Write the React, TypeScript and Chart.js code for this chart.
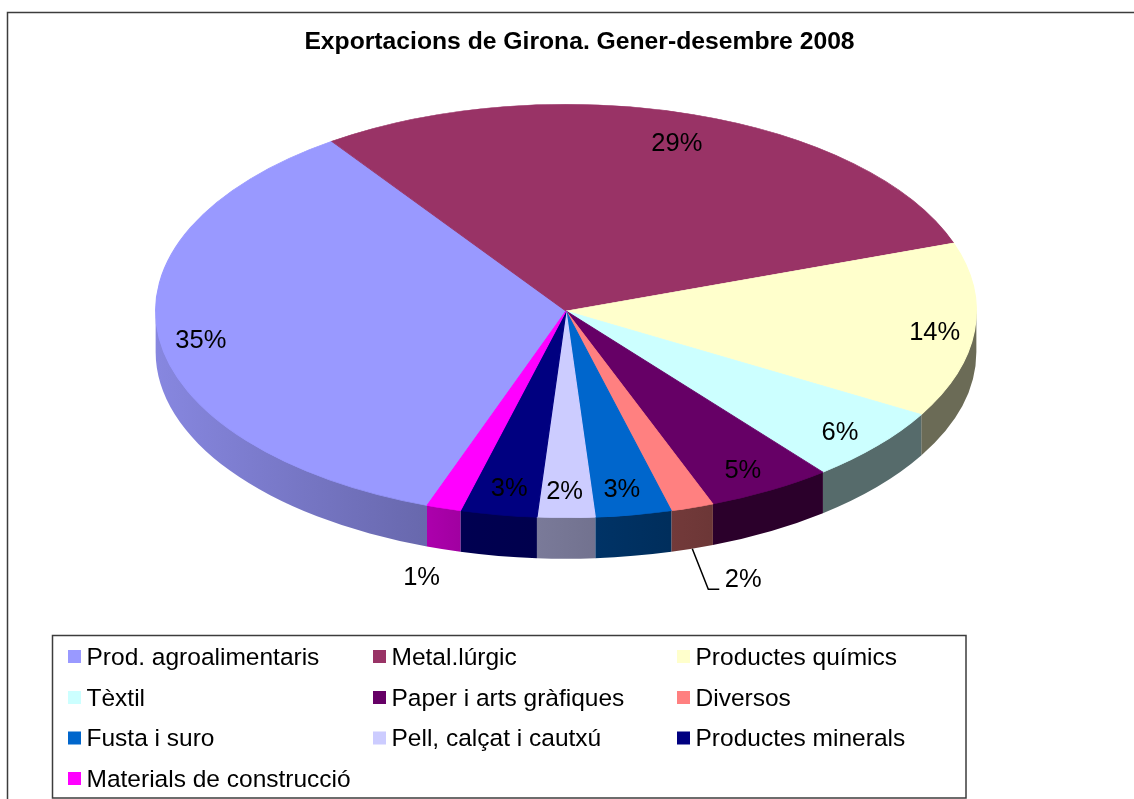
import React, { useEffect, useRef } from "react";
import { Chart, registerables } from "chart.js";

Chart.register(...registerables);

const categories = [
  "Prod. agroalimentaris",
  "Metal.lúrgic",
  "Productes químics",
  "Tèxtil",
  "Paper i arts gràfiques",
  "Diversos",
  "Fusta i suro",
  "Pell, calçat i cautxú",
  "Productes minerals",
  "Materials de construcció",
];
const shares = [34.9, 29.4, 13.7, 5.9, 4.95, 1.7, 3.0, 2.27, 3.02, 1.36];
const sliceColors = [
  "#9999FF", "#993366", "#FFFFCC", "#CCFFFF", "#660066",
  "#FF8080", "#0066CC", "#CCCCFF", "#000080", "#FF00FF",
];
const chartTitle = "Exportacions de Girona. Gener-desembre 2008";

// Layout / style configuration
const W = 1134;
const H = 799;
const X_SQUASH = 411 / 207; // the pie is drawn stretched into a tilted disc
const DEPTH = 41;
const FONT = '"Liberation Sans", Arial, sans-serif';
const wallShade: [number, number][] = [
  [155, 0.88], [425, 0.68], [460, 0.63], [537, 0.6], [595, 0.56],
  [597, 0.5], [670, 0.45], [720, 0.42], [977, 0.42],
];
// radial factor + pixel nudge for each percent label
const labelPlace: { f: number; dx: number; dy: number }[] = [
  { f: 0.9, dx: 1, dy: 6 },
  { f: 0.85, dx: 3, dy: 0 },
  { f: 0.9, dx: 1, dy: 4 },
  { f: 0.88, dx: 0, dy: 3 },
  { f: 0.87, dx: -1, dy: 4.5 },
  { f: 1.0, dx: 51, dy: 72.5 },
  { f: 0.87, dx: -3, dy: 1.5 },
  { f: 0.87, dx: -1.5, dy: 1 },
  { f: 0.87, dx: 2, dy: 1 },
  { f: 1.0, dx: -22, dy: 70 },
];
const leaderIndex = 5;
const legendCols = [68, 373, 677];
const legendRows = [657, 698, 738.5, 779];

const rgb = (hex: string) => [1, 3, 5].map((i) => parseInt(hex.slice(i, i + 2), 16));

const arcsOf = (chart: any) => chart.getDatasetMeta(0).data as any[];

const tiltPlugin = {
  id: "tilt",
  afterLayout(chart: any) {
    // title sits a little right of the pie centre
    if (chart.titleBlock) chart.titleBlock.left += 27;
  },
  beforeDraw(chart: any) {
    const { ctx } = chart;
    ctx.save();
    ctx.strokeStyle = "#3c3c3c";
    ctx.lineWidth = 1.5;
    ctx.beginPath();
    ctx.moveTo(7.5, H);
    ctx.lineTo(7.5, 12.5);
    ctx.lineTo(W, 12.5);
    ctx.stroke();
    ctx.restore();
  },
  beforeDatasetsDraw(chart: any) {
    const { ctx } = chart;
    const TWO_PI = Math.PI * 2;
    arcsOf(chart).forEach((arc, i) => {
      const { x, y, outerRadius, startAngle, endAngle } = arc.getProps(
        ["x", "y", "outerRadius", "startAngle", "endAngle"],
        true
      );
      const rx = outerRadius * X_SQUASH;
      const ry = outerRadius;
      const [r, g, b] = rgb(sliceColors[i]);
      const grad = ctx.createLinearGradient(155, 0, 977, 0);
      wallShade.forEach(([px, s]) => {
        grad.addColorStop(
          (px - 155) / (977 - 155),
          `rgb(${Math.round(r * s)},${Math.round(g * s)},${Math.round(b * s)})`
        );
      });
      for (let k = -1; k <= 2; k++) {
        const lo = Math.max(startAngle, k * TWO_PI);
        const hi = Math.min(endAngle, k * TWO_PI + Math.PI);
        if (hi <= lo) continue;
        ctx.beginPath();
        ctx.ellipse(x, y - 2, rx, ry, 0, lo, hi);
        ctx.ellipse(x, y + DEPTH, rx, ry, 0, hi, lo, true);
        ctx.closePath();
        ctx.fillStyle = grad;
        ctx.fill();
      }
    });
  },
  beforeDatasetDraw(chart: any) {
    const { ctx } = chart;
    const { x, y } = arcsOf(chart)[0];
    ctx.save();
    ctx.translate(x, y);
    ctx.scale(X_SQUASH, 1);
    ctx.translate(-x, -y);
  },
  afterDatasetDraw(chart: any) {
    chart.ctx.restore();
  },
  afterDatasetsDraw(chart: any) {
    const { ctx } = chart;
    const values = chart.data.datasets[0].data as number[];
    ctx.save();
    ctx.fillStyle = "#000";
    ctx.font = `25.5px ${FONT}`;
    ctx.textAlign = "center";
    ctx.textBaseline = "middle";
    arcsOf(chart).forEach((arc, i) => {
      const { x, y, outerRadius, startAngle, endAngle } = arc.getProps(
        ["x", "y", "outerRadius", "startAngle", "endAngle"],
        true
      );
      const mid = (startAngle + endAngle) / 2;
      const p = labelPlace[i];
      const rx = outerRadius * X_SQUASH;
      const lx = x + Math.cos(mid) * rx * p.f + p.dx;
      const ly = y + Math.sin(mid) * outerRadius * p.f + p.dy;
      ctx.fillText(`${Math.round(values[i])}%`, lx, ly);
      if (i === leaderIndex) {
        ctx.save();
        ctx.strokeStyle = "#000";
        ctx.lineWidth = 1.5;
        ctx.beginPath();
        ctx.moveTo(x + Math.cos(mid) * rx, y + Math.sin(mid) * outerRadius + DEPTH);
        ctx.lineTo(lx - 35, ly + 9);
        ctx.lineTo(lx - 24, ly + 9);
        ctx.stroke();
        ctx.restore();
      }
    });

    // legend frame, swatches and names
    ctx.strokeStyle = "#3c3c3c";
    ctx.lineWidth = 1.5;
    ctx.strokeRect(52.5, 635.5, 913.5, 162.5);
    ctx.font = `24.5px ${FONT}`;
    ctx.textAlign = "left";
    (chart.data.labels as string[]).forEach((name, i) => {
      const cx = legendCols[i % 3];
      const cy = legendRows[Math.floor(i / 3)];
      ctx.fillStyle = sliceColors[i];
      ctx.fillRect(cx, cy - 7, 13, 13);
      ctx.fillStyle = "#000";
      ctx.fillText(name, cx + 18.5, cy + 1);
    });
    ctx.restore();
  },
};

export default function App() {
  const ref = useRef<HTMLCanvasElement | null>(null);
  useEffect(() => {
    if (!ref.current) return;
    const chart = new Chart(ref.current, {
      type: "pie",
      data: {
        labels: categories,
        datasets: [
          {
            data: shares,
            backgroundColor: sliceColors,
            borderColor: sliceColors,
            borderWidth: 0.6,
            clip: false,
          } as any,
        ],
      },
      plugins: [tiltPlugin],
      options: {
        animation: false,
        responsive: false,
        events: [],
        rotation: 199.8,
        layout: { padding: { top: 0, bottom: 281, left: 155, right: 157 } },
        plugins: {
          legend: { display: false },
          tooltip: { enabled: false },
          title: {
            display: true,
            text: chartTitle,
            color: "#000",
            font: { family: FONT, size: 24.7, weight: "bold", lineHeight: 1.2 },
            padding: { top: 27, bottom: 47.4 },
          },
        },
      },
    } as any);
    return () => chart.destroy();
  }, []);
  return (
    <div style={{ position: "absolute", left: 0, top: 0, width: W, height: H, background: "#fff" }}>
      <canvas ref={ref} width={W} height={H} style={{ display: "block" }} />
    </div>
  );
}
